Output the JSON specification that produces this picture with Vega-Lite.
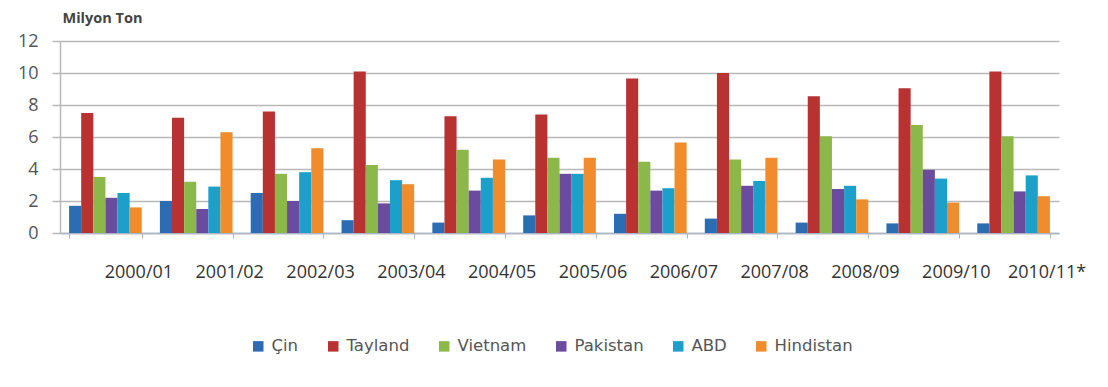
{
  "$schema": "https://vega.github.io/schema/vega-lite/v6.json",
  "autosize": {"type": "none"},
  "width": 999,
  "height": 192,
  "padding": {"left": 60, "top": 41, "right": 49, "bottom": 154},
  "background": "white",
  "config": {
    "view": {"stroke": null},
    "font": "Open Sans"
  },
  "data": {
    "values": [
      {"season": "2000/01", "country": "Çin", "value": 1.7},
      {"season": "2000/01", "country": "Tayland", "value": 7.5},
      {"season": "2000/01", "country": "Vietnam", "value": 3.5},
      {"season": "2000/01", "country": "Pakistan", "value": 2.2},
      {"season": "2000/01", "country": "ABD", "value": 2.5},
      {"season": "2000/01", "country": "Hindistan", "value": 1.6},
      {"season": "2001/02", "country": "Çin", "value": 2.0},
      {"season": "2001/02", "country": "Tayland", "value": 7.2},
      {"season": "2001/02", "country": "Vietnam", "value": 3.2},
      {"season": "2001/02", "country": "Pakistan", "value": 1.5},
      {"season": "2001/02", "country": "ABD", "value": 2.9},
      {"season": "2001/02", "country": "Hindistan", "value": 6.3},
      {"season": "2002/03", "country": "Çin", "value": 2.5},
      {"season": "2002/03", "country": "Tayland", "value": 7.6},
      {"season": "2002/03", "country": "Vietnam", "value": 3.7},
      {"season": "2002/03", "country": "Pakistan", "value": 2.0},
      {"season": "2002/03", "country": "ABD", "value": 3.8},
      {"season": "2002/03", "country": "Hindistan", "value": 5.3},
      {"season": "2003/04", "country": "Çin", "value": 0.8},
      {"season": "2003/04", "country": "Tayland", "value": 10.1},
      {"season": "2003/04", "country": "Vietnam", "value": 4.25},
      {"season": "2003/04", "country": "Pakistan", "value": 1.85},
      {"season": "2003/04", "country": "ABD", "value": 3.3},
      {"season": "2003/04", "country": "Hindistan", "value": 3.05},
      {"season": "2004/05", "country": "Çin", "value": 0.65},
      {"season": "2004/05", "country": "Tayland", "value": 7.3},
      {"season": "2004/05", "country": "Vietnam", "value": 5.2},
      {"season": "2004/05", "country": "Pakistan", "value": 2.65},
      {"season": "2004/05", "country": "ABD", "value": 3.45},
      {"season": "2004/05", "country": "Hindistan", "value": 4.6},
      {"season": "2005/06", "country": "Çin", "value": 1.1},
      {"season": "2005/06", "country": "Tayland", "value": 7.4},
      {"season": "2005/06", "country": "Vietnam", "value": 4.7},
      {"season": "2005/06", "country": "Pakistan", "value": 3.7},
      {"season": "2005/06", "country": "ABD", "value": 3.7},
      {"season": "2005/06", "country": "Hindistan", "value": 4.7},
      {"season": "2006/07", "country": "Çin", "value": 1.2},
      {"season": "2006/07", "country": "Tayland", "value": 9.65},
      {"season": "2006/07", "country": "Vietnam", "value": 4.45},
      {"season": "2006/07", "country": "Pakistan", "value": 2.65},
      {"season": "2006/07", "country": "ABD", "value": 2.8},
      {"season": "2006/07", "country": "Hindistan", "value": 5.65},
      {"season": "2007/08", "country": "Çin", "value": 0.9},
      {"season": "2007/08", "country": "Tayland", "value": 10.0},
      {"season": "2007/08", "country": "Vietnam", "value": 4.6},
      {"season": "2007/08", "country": "Pakistan", "value": 2.95},
      {"season": "2007/08", "country": "ABD", "value": 3.25},
      {"season": "2007/08", "country": "Hindistan", "value": 4.7},
      {"season": "2008/09", "country": "Çin", "value": 0.65},
      {"season": "2008/09", "country": "Tayland", "value": 8.55},
      {"season": "2008/09", "country": "Vietnam", "value": 6.05},
      {"season": "2008/09", "country": "Pakistan", "value": 2.75},
      {"season": "2008/09", "country": "ABD", "value": 2.95},
      {"season": "2008/09", "country": "Hindistan", "value": 2.1},
      {"season": "2009/10", "country": "Çin", "value": 0.6},
      {"season": "2009/10", "country": "Tayland", "value": 9.05},
      {"season": "2009/10", "country": "Vietnam", "value": 6.75},
      {"season": "2009/10", "country": "Pakistan", "value": 3.95},
      {"season": "2009/10", "country": "ABD", "value": 3.4},
      {"season": "2009/10", "country": "Hindistan", "value": 1.9},
      {"season": "2010/11*", "country": "Çin", "value": 0.6},
      {"season": "2010/11*", "country": "Tayland", "value": 10.1},
      {"season": "2010/11*", "country": "Vietnam", "value": 6.05},
      {"season": "2010/11*", "country": "Pakistan", "value": 2.6},
      {"season": "2010/11*", "country": "ABD", "value": 3.6},
      {"season": "2010/11*", "country": "Hindistan", "value": 2.3}
    ]
  },
  "mark": {"type": "bar"},
  "encoding": {
    "x": {
      "field": "season",
      "type": "nominal",
      "sort": null,
      "scale": {"paddingInner": 0.2, "paddingOuter": 0.1},
      "axis": {
        "title": null,
        "labelAngle": 0,
        "labelFontSize": 18,
        "labelColor": "#333333",
        "labelPadding": 25,
        "labelOffset": 33,
        "tickBand": "extent",
        "tickSize": 5,
        "tickColor": "#aab4c8",
        "domainColor": "#aab4c8",
        "domainWidth": 1.5
      }
    },
    "xOffset": {
      "field": "country",
      "sort": ["Çin", "Tayland", "Vietnam", "Pakistan", "ABD", "Hindistan"]
    },
    "y": {
      "field": "value",
      "type": "quantitative",
      "scale": {"domain": [0, 12], "nice": false},
      "axis": {
        "values": [0, 2, 4, 6, 8, 10, 12],
        "title": "Milyon Ton",
        "titleAngle": 0,
        "titleAlign": "left",
        "titleBaseline": "middle",
        "titleX": 2,
        "titleY": -23,
        "titleFontSize": 14.5,
        "titleFontWeight": "bold",
        "titleColor": "#444444",
        "labelFontSize": 18,
        "labelColor": "#555555",
        "labelPadding": 14,
        "tickSize": 8,
        "tickColor": "#b8b8b8",
        "tickWidth": 1.5,
        "domainColor": "#b8b8b8",
        "domainWidth": 1.5,
        "grid": true,
        "gridColor": "#b8b8b8",
        "gridWidth": 1.5
      }
    },
    "color": {
      "field": "country",
      "type": "nominal",
      "sort": ["Çin", "Tayland", "Vietnam", "Pakistan", "ABD", "Hindistan"],
      "scale": {
        "domain": ["Çin", "Tayland", "Vietnam", "Pakistan", "ABD", "Hindistan"],
        "range": ["#2B6CB3", "#B83232", "#8CB84A", "#6B4B9E", "#1C9FC9", "#F08C2C"]
      },
      "legend": {
        "title": null,
        "orient": "none",
        "direction": "horizontal",
        "legendX": 190,
        "legendY": 297,
        "symbolType": "square",
        "symbolSize": 110,
        "symbolStrokeWidth": 0,
        "labelFont": "DejaVu Sans",
        "labelFontSize": 16.5,
        "labelColor": "#555555",
        "labelOffset": 5,
        "columnPadding": 26
      }
    }
  }
}
